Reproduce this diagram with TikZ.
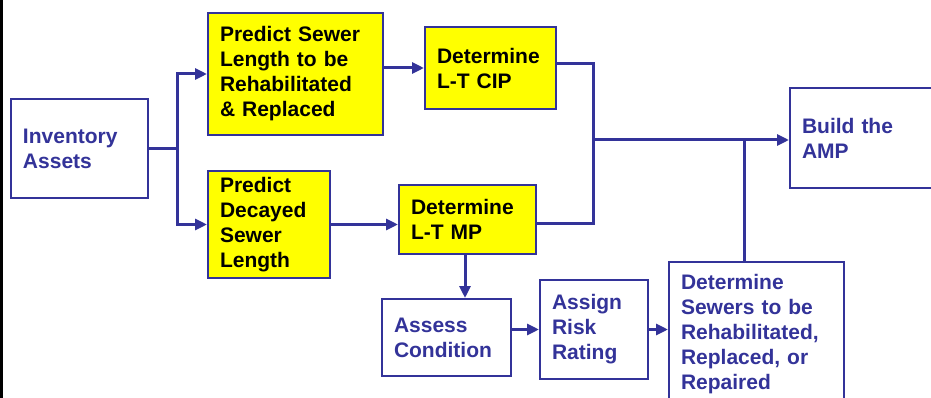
\documentclass[tikz,border=0pt]{standalone}
\usepackage{fontspec}
\setmainfont{Liberation Sans}
\usetikzlibrary{arrows.meta,calc}
\definecolor{navy}{RGB}{51,51,153}
\definecolor{yel}{RGB}{255,255,0}
\tikzset{
  box/.style={draw=navy, line width=2pt, fill=white, anchor=north west,
    inner xsep=12pt, inner ysep=0pt, align=left,
    font=\fontsize{21}{25}\selectfont\bfseries, text=navy},
  ybox/.style={box, fill=yel, text=black},
  conn/.style={draw=navy, line width=3pt},
  arr/.style={conn, -{Triangle[length=12pt,width=11pt]}}
}
\begin{document}
\begin{tikzpicture}[x=1pt,y=-1pt]
\useasboundingbox (0,0) rectangle (931,398);
\clip (0,0) rectangle (931,398);
\fill[white] (0,0) rectangle (931,398);
\fill[black] (0,0) rectangle (2.5,398);
% boxes
\node[box, text width=113pt, minimum height=99pt] (inv) at (10,98) {Inventory\\Assets};
\node[ybox, text width=151pt, minimum height=122pt] (pred1) at (207,12) {Predict Sewer\\Length to be\\Rehabilitated\\\& Replaced};
\node[ybox, text width=107pt, minimum height=82pt] (cip) at (424,26) {Determine\\L-T CIP};
\node[ybox, text width=98pt, minimum height=107pt] (pred2) at (207,170) {Predict\\Decayed\\Sewer\\Length};
\node[ybox, text width=113pt, minimum height=69pt] (mp) at (398,184) {Determine\\L-T MP};
\node[box, text width=136pt, minimum height=100pt] (amp) at (789,87) {Build the\\AMP};
\node[box, text width=105pt, minimum height=77pt] (assess) at (381,298) {Assess\\Condition};
\node[box, text width=84pt, minimum height=99pt] (assign) at (539,279) {Assign\\Risk\\Rating};
\node[box, text width=151pt, minimum height=144pt] (dsew) at (668,261) {Determine\\Sewers to be\\Rehabilitated,\\Replaced, or\\Repaired};
% junctions
\coordinate (br) at (177,148);
\coordinate (j) at (593,140);
\coordinate (j2) at (744,140);
% connectors
\draw[conn] (inv.east) -- (inv.east -| br);
\draw[arr] (br |- inv.east) |- (pred1.west);
\draw[arr] (br |- inv.east) |- (pred2.west);
\draw[arr] (pred1.east |- cip.west) -- (cip.west);
\draw[arr] (pred2.east) -- (pred2.east -| mp.west);
\draw[conn] ($(cip.east)+(0,-4)$) -| (j);
\draw[conn] ($(mp.east)+(0,4)$) -| (j);
\draw[arr] (j) -- (j -| amp.west);
\draw[conn] (dsew.north -| j2) -- (j2);
\draw[arr] ($(mp.south)+(-2.5,0)$) -- ($(mp.south |- assess.north)+(-2.5,0)$);
\draw[arr] ($(assess.east)+(0,-8)$) -- ($(assess.east -| assign.west)+(0,-8)$);
\draw[arr] (assign.east) -- (assign.east -| dsew.west);
\end{tikzpicture}
\end{document}
